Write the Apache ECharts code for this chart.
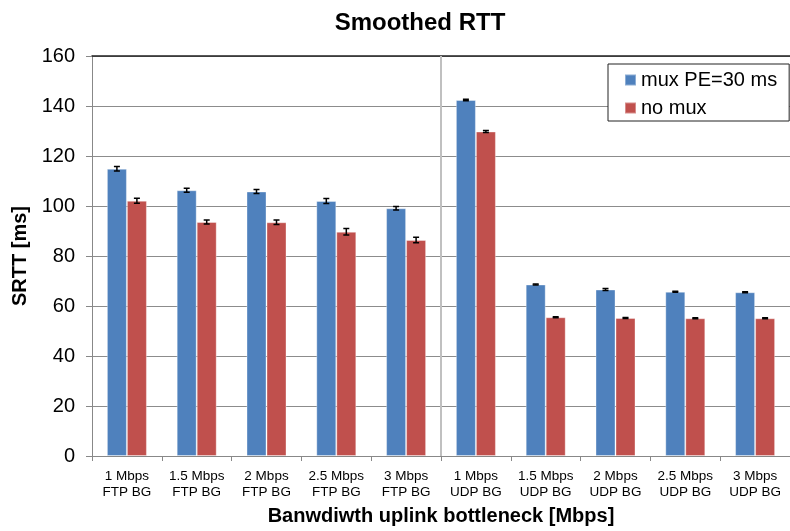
<!DOCTYPE html>
<html>
<head>
<meta charset="utf-8">
<script src="https://cdn.jsdelivr.net/npm/echarts@6/dist/echarts.min.js"></script>
<style>
  html, body { margin: 0; padding: 0; background: #fff; }
  #chart { width: 790px; height: 531px; }
</style>
</head>
<body>
<div id="chart"></div>
<script>
// Bottleneck scenarios (x axis)
const categories = [
  '1 Mbps\nFTP BG', '1.5 Mbps\nFTP BG', '2 Mbps\nFTP BG', '2.5 Mbps\nFTP BG', '3 Mbps\nFTP BG',
  '1 Mbps\nUDP BG', '1.5 Mbps\nUDP BG', '2 Mbps\nUDP BG', '2.5 Mbps\nUDP BG', '3 Mbps\nUDP BG'
];

// Mean smoothed RTT [ms]
const muxValues   = [114.9, 106.3, 105.8, 102.0, 99.1, 142.4, 68.6, 66.6, 65.7, 65.5];
const noMuxValues = [102.1,  93.6,  93.5,  89.7, 86.4, 129.8, 55.5, 55.2, 55.1, 55.1];

// Confidence half-widths [ms]
const muxErrors   = [0.9, 0.8, 0.8, 1.0, 0.7, 0.3, 0.2, 0.4, 0.2, 0.2];
const noMuxErrors = [1.0, 0.8, 0.9, 1.3, 1.1, 0.4, 0.2, 0.2, 0.2, 0.2];

const seriesNames = ['mux PE=30 ms', 'no mux'];
const yTicks = { min: 0, max: 160, interval: 20 };

const FONT = '"Liberation Sans", Arial, Helvetica, sans-serif';
const BAR_W = 20;

// first category of the UDP background-traffic group
const udpStart = categories.findIndex(c => c.indexOf('UDP') >= 0);

// Error bar drawn as an "I" centred on one bar of the pair
function errorBarSeries(values, errors, side) {
  return {
    type: 'custom',
    silent: true,
    z: 10,
    data: values.map((v, i) => [i, v - errors[i], v + errors[i]]),
    renderItem: function (params, api) {
      const lo = api.coord([api.value(0), api.value(1)]);
      const hi = api.coord([api.value(0), api.value(2)]);
      const x = lo[0] + side * BAR_W / 2;
      const cap = 3;
      const style = { stroke: '#000', lineWidth: 1.5 };
      return {
        type: 'group',
        children: [
          { type: 'line', shape: { x1: x, y1: lo[1], x2: x, y2: hi[1] }, style },
          { type: 'line', shape: { x1: x - cap, y1: lo[1], x2: x + cap, y2: lo[1] }, style },
          { type: 'line', shape: { x1: x - cap, y1: hi[1], x2: x + cap, y2: hi[1] }, style }
        ]
      };
    }
  };
}

// Vertical separator between the FTP and UDP groups
const separatorSeries = {
  type: 'custom',
  silent: true,
  z: 1,
  data: [[udpStart]],
  renderItem: function (params, api) {
    const bottom = api.coord([api.value(0), yTicks.min]);
    const top = api.coord([api.value(0), yTicks.max]);
    const x = bottom[0] - api.size([1, 0])[0] / 2;
    return {
      type: 'line',
      shape: { x1: x, y1: bottom[1], x2: x, y2: top[1] },
      style: { stroke: '#c0c0c0', lineWidth: 2 }
    };
  }
};

const chart = echarts.init(document.getElementById('chart'), null, { renderer: 'canvas' });

chart.setOption({
  animation: false,
  backgroundColor: '#fff',
  textStyle: { fontFamily: FONT },
  title: {
    text: 'Smoothed RTT',
    left: 415,
    textAlign: 'center',
    top: 6,
    textStyle: { fontFamily: FONT, fontSize: 24, fontWeight: 'bold', color: '#000' }
  },
  legend: {
    data: seriesNames,
    orient: 'vertical',
    left: 608,
    top: 64,
    padding: [6, 12, 3, 16],
    itemGap: 8,
    itemWidth: 11,
    itemHeight: 11,
    icon: 'rect',
    backgroundColor: '#fff',
    borderColor: '#222',
    borderWidth: 1,
    textStyle: { fontFamily: FONT, fontSize: 20, color: '#000', lineHeight: 20 }
  },
  grid: { left: 92, top: 56, width: 706, height: 407, containLabel: false },
  xAxis: [
    {
      type: 'category',
      data: categories,
      boundaryGap: true,
      name: 'Banwdiwth uplink bottleneck [Mbps]',
      nameLocation: 'middle',
      nameGap: 50,
      nameTextStyle: { fontFamily: FONT, fontSize: 20, fontWeight: 'bold', color: '#000' },
      axisLine: { lineStyle: { color: '#888', width: 1 } },
      axisTick: { show: true, alignWithLabel: false, length: 5, lineStyle: { color: '#888' } },
      axisLabel: { fontFamily: FONT, fontSize: 13.5, color: '#000', lineHeight: 16, margin: 12, interval: 0 },
      splitLine: { show: false }
    },
    {
      // frame line along the top of the plot area
      type: 'category',
      data: categories,
      position: 'top',
      axisLine: { lineStyle: { color: '#222', width: 1.5 } },
      axisTick: { show: false },
      axisLabel: { show: false },
      splitLine: { show: false }
    }
  ],
  yAxis: {
    type: 'value',
    min: yTicks.min,
    max: yTicks.max,
    interval: yTicks.interval,
    name: 'SRTT [ms]',
    nameLocation: 'middle',
    nameGap: 58,
    nameTextStyle: { fontFamily: FONT, fontSize: 20, fontWeight: 'bold', color: '#000' },
    axisLine: { show: true, lineStyle: { color: '#888', width: 1 } },
    axisTick: { show: true, inside: false, length: 6, lineStyle: { color: '#888' } },
    axisLabel: { fontFamily: FONT, fontSize: 20, color: '#000', margin: 17 },
    splitLine: { show: true, lineStyle: { color: '#8c8c8c', width: 1 } }
  },
  series: [
    separatorSeries,
    {
      name: seriesNames[0],
      type: 'bar',
      data: muxValues,
      barWidth: BAR_W,
      barGap: '0%',
      itemStyle: { color: '#4F81BD', borderColor: 'rgba(255,255,255,0.35)', borderWidth: 1 }
    },
    {
      name: seriesNames[1],
      type: 'bar',
      data: noMuxValues,
      barWidth: BAR_W,
      barGap: '0%',
      itemStyle: { color: '#C0504D', borderColor: 'rgba(255,255,255,0.35)', borderWidth: 1 }
    },
    errorBarSeries(muxValues, muxErrors, -1),
    errorBarSeries(noMuxValues, noMuxErrors, 1)
  ]
});
</script>
</body>
</html>
